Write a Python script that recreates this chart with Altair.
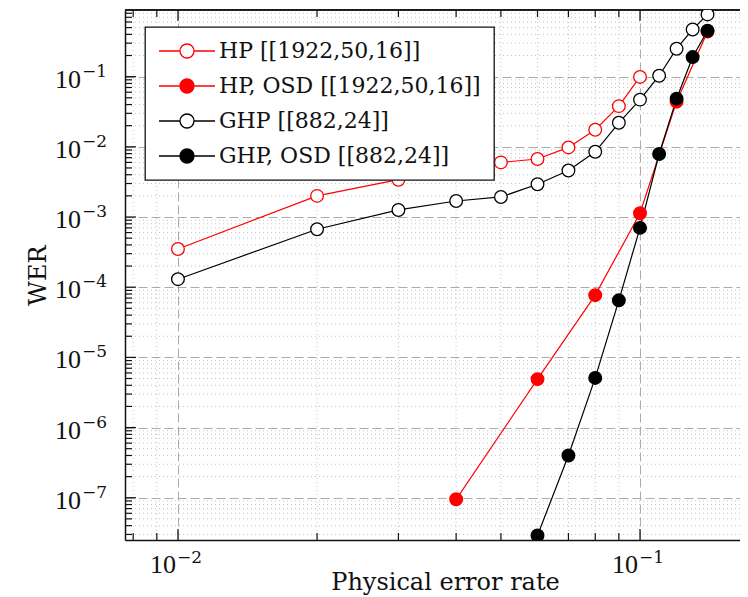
import altair as alt
import pandas as pd

# ---- data ----
series_names = ["HP [[1922,50,16]]", "HP, OSD [[1922,50,16]]", "GHP [[882,24]]", "GHP, OSD [[882,24]]"]

x_hp = [0.01, 0.02, 0.03, 0.04, 0.05, 0.06, 0.07, 0.08, 0.09, 0.1]
wer_hp = [3.5e-4, 2.0e-3, 3.4e-3, 4.6e-3, 6.0e-3, 6.7e-3, 9.8e-3, 1.75e-2, 3.8e-2, 9.9e-2]

x_hp_osd = [0.04, 0.06, 0.08, 0.1, 0.12, 0.14]
wer_hp_osd = [9.5e-8, 4.9e-6, 7.7e-5, 1.13e-3, 4.4e-2, 0.44]

x_ghp = [0.01, 0.02, 0.03, 0.04, 0.05, 0.06, 0.07, 0.08, 0.09, 0.1, 0.11, 0.12, 0.13, 0.14]
wer_ghp = [1.3e-4, 6.7e-4, 1.26e-3, 1.69e-3, 1.93e-3, 2.93e-3, 4.6e-3, 8.5e-3, 2.2e-2, 4.7e-2, 0.103, 0.25, 0.47, 0.77]

x_ghp_osd = [0.06, 0.07, 0.08, 0.09, 0.1, 0.11, 0.12, 0.13, 0.14]
wer_ghp_osd = [2.9e-8, 4.0e-7, 5.1e-6, 6.5e-5, 7.0e-4, 7.9e-3, 4.85e-2, 0.19, 0.45]

stroke_colors = ["#ff0000", "#ff0000", "#000000", "#000000"]
fill_colors = ["#ffffff", "#ff0000", "#ffffff", "#000000"]

# axis ticks and their labels (base 10 with a raised exponent)
x_major = [0.01, 0.1]
x_major_exp = ["−2", "−1"]
x_minor = [0.008, 0.009, 0.02, 0.03, 0.04, 0.05, 0.06, 0.07, 0.08, 0.09]
y_major = [1e-7, 1e-6, 1e-5, 1e-4, 1e-3, 1e-2, 1e-1]
y_major_exp = ["−7", "−6", "−5", "−4", "−3", "−2", "−1"]
y_minor = [k * 10.0 ** e for e in range(-8, 0) for k in range(2, 10)]

x_domain = [0.00768, 0.1646]
y_domain = [2.5e-8, 0.89]
y_minor = [v for v in y_minor if y_domain[0] <= v <= y_domain[1]]

rows = []
for name, xs, ys in [(series_names[0], x_hp, wer_hp), (series_names[1], x_hp_osd, wer_hp_osd),
                     (series_names[2], x_ghp, wer_ghp), (series_names[3], x_ghp_osd, wer_ghp_osd)]:
    for xv, yv in zip(xs, ys):
        rows.append({"series": name, "x": xv, "y": yv})
df = pd.DataFrame(rows)

W, H = 615, 530
FONT = "DejaVu Serif"
NUMFONT = "Liberation Serif"
INK = "#111111"

xscale = alt.Scale(type="log", domain=x_domain, nice=False)
yscale = alt.Scale(type="log", domain=y_domain, nice=False)

x_axis = alt.Axis(values=x_major, labels=False, title="Physical error rate",
                  grid=True, gridDash=[9, 4], gridColor="#ababab", gridWidth=1,
                  ticks=False, domain=True, domainColor=INK, domainWidth=1.5,
                  titleFont=FONT, titleFontSize=24, titleFontWeight="normal", titleColor=INK,
                  titleBaseline="alphabetic", titleX=320, titleY=49, titleAlign="center")
y_axis = alt.Axis(values=y_major, labels=False, title="WER",
                  grid=True, gridDash=[9, 4], gridColor="#ababab", gridWidth=1,
                  ticks=False, domain=True, domainColor=INK, domainWidth=1.5,
                  titleFont=FONT, titleFontSize=24, titleFontWeight="normal", titleColor=INK,
                  titleBaseline="alphabetic", titleAngle=270, titleX=-80, titleY=265, titleAlign="center")

legend_symbol = "M-4,0L-1,0M1,0L4,0M-1,0A1,1,0,1,1,1,0A1,1,0,1,1,-1,0Z"
legend = alt.Legend(title=None, orient="none", legendX=20, legendY=17,
                    symbolType=legend_symbol, symbolSize=196, symbolStrokeWidth=1.3,
                    symbolOffset=18, labelOffset=21,
                    labelFont=FONT, labelFontSize=22, labelColor=INK, labelLimit=400,
                    padding=13, rowPadding=13, fillColor="white", strokeColor=INK)

stroke_scale = alt.Scale(domain=series_names, range=stroke_colors)
fill_scale = alt.Scale(domain=series_names, range=fill_colors)

df_xmin = pd.DataFrame({"x": x_minor})
df_xmaj = pd.DataFrame({"x": x_major, "exp": x_major_exp})
df_ymin = pd.DataFrame({"y": y_minor})
df_ymaj = pd.DataFrame({"y": y_major, "exp": y_major_exp})

x_enc = alt.X("x:Q", scale=xscale, axis=x_axis)
y_enc = alt.Y("y:Q", scale=yscale, axis=y_axis)

grid_x_minor = alt.Chart(df_xmin).mark_rule(color="#c4c4c4", strokeDash=[1, 3], strokeWidth=1).encode(x=x_enc)
grid_y_minor = alt.Chart(df_ymin).mark_rule(color="#c4c4c4", strokeDash=[1, 3], strokeWidth=1).encode(y=y_enc)

tick_style = dict(color=INK, strokeWidth=1.2)
ticks_left_min = alt.Chart(df_ymin).mark_rule(**tick_style).encode(y=y_enc, x=alt.value(0), x2=alt.value(7))
ticks_left_maj = alt.Chart(df_ymaj).mark_rule(**tick_style).encode(y=y_enc, x=alt.value(0), x2=alt.value(11))
ticks_bot_min = alt.Chart(df_xmin).mark_rule(**tick_style).encode(x=x_enc, y=alt.value(H), y2=alt.value(H - 7))
ticks_bot_maj = alt.Chart(df_xmaj).mark_rule(**tick_style).encode(x=x_enc, y=alt.value(H), y2=alt.value(H - 11))
ticks_top_min = alt.Chart(df_xmin).mark_rule(**tick_style).encode(x=x_enc, y=alt.value(0), y2=alt.value(7))
ticks_top_maj = alt.Chart(df_xmaj).mark_rule(**tick_style).encode(x=x_enc, y=alt.value(0), y2=alt.value(11))
top_frame = alt.Chart(df_xmaj).mark_rule(color=INK, strokeWidth=1.5).encode(y=alt.value(0))

# tick labels: "10" plus a raised exponent
base_style = dict(font=NUMFONT, fontSize=26, color=INK, baseline="alphabetic")
exp_style = dict(font=FONT, fontSize=17, color=INK, baseline="alphabetic")
xlab_base = alt.Chart(df_xmaj).mark_text(align="right", dx=-2, **base_style).encode(
    x=x_enc, y=alt.value(H + 33), text=alt.value("10"))
xlab_exp = alt.Chart(df_xmaj).mark_text(align="left", dx=-1, **exp_style).encode(
    x=x_enc, y=alt.value(H + 23), text="exp:N")
ylab_base = alt.Chart(df_ymaj).mark_text(align="right", dy=11, **base_style).encode(
    y=y_enc, x=alt.value(-44), text=alt.value("10"))
ylab_exp = alt.Chart(df_ymaj).mark_text(align="left", dy=0, **exp_style).encode(
    y=y_enc, x=alt.value(-43), text="exp:N")

lines = alt.Chart(df).mark_line(strokeWidth=1.2, clip=True).encode(
    x=x_enc,
    y=y_enc,
    stroke=alt.Stroke("series:N", scale=stroke_scale, legend=legend),
    detail="series:N",
    order=alt.Order("x:Q"),
)

points = alt.Chart(df).mark_point(shape="circle", size=160, strokeWidth=1.3, opacity=1, clip=True).encode(
    x=x_enc,
    y=y_enc,
    stroke=alt.Stroke("series:N", scale=stroke_scale, legend=legend),
    fill=alt.Fill("series:N", scale=fill_scale, legend=legend),
)

chart = alt.layer(
    grid_x_minor, grid_y_minor,
    ticks_left_min, ticks_left_maj, ticks_bot_min, ticks_bot_maj, ticks_top_min, ticks_top_maj,
    top_frame, xlab_base, xlab_exp, ylab_base, ylab_exp, lines, points,
).properties(
    width=W, height=H,
    autosize=alt.AutoSizeParams(type="none"),
    padding={"left": 117, "top": 2, "right": 0, "bottom": 56},
    background="white",
).configure_view(stroke=None).configure_legend(strokeWidth=1.3)

chart.save("out.html", embed_options={"renderer": "svg", "actions": False})
